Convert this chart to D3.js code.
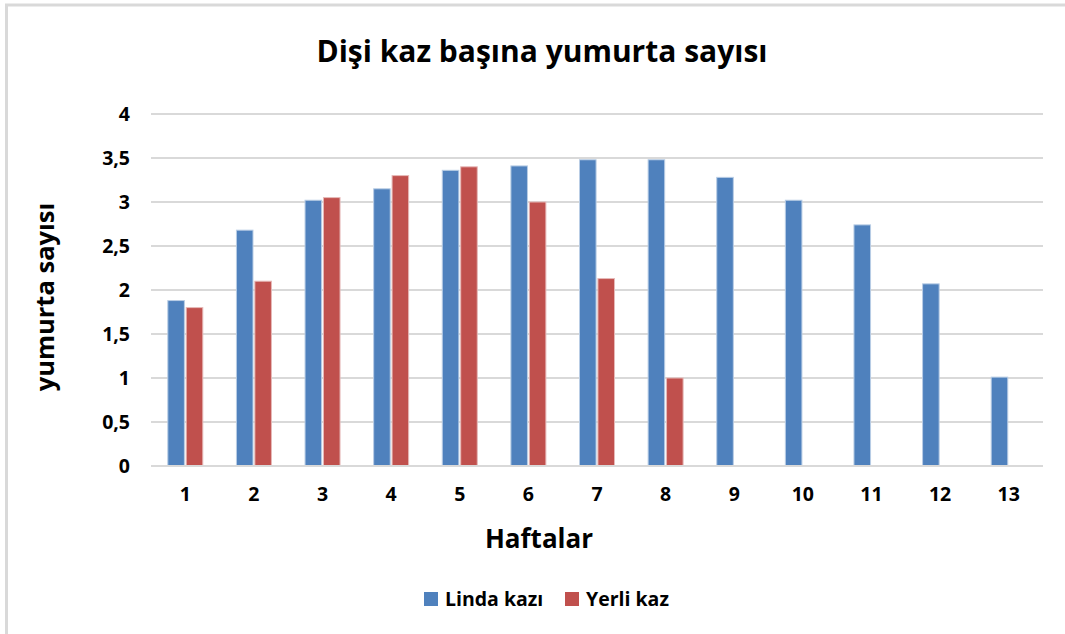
<!DOCTYPE html>
<html><head><meta charset="utf-8">
<script src="https://cdn.jsdelivr.net/npm/d3@7"></script>
<style>body{margin:0;background:#fff}svg{display:block}text{font-family:"Open Sans","Noto Sans",sans-serif;font-weight:bold;fill:#000}</style>
</head><body><svg id="c" width="1065" height="634"></svg>
<script>
const weeks = ["1","2","3","4","5","6","7","8","9","10","11","12","13"];
const seriesNames = ["Linda kazı","Yerli kaz"];
const lindaValues = [1.88,2.68,3.02,3.15,3.36,3.41,3.48,3.48,3.28,3.02,2.74,2.07,1.01];
const yerliValues = [1.80,2.10,3.05,3.30,3.40,3.00,2.13,1.00,null,null,null,null,null];
const yTicks = [0,0.5,1,1.5,2,2.5,3,3.5,4];
const colors = ["#4f81bd","#c0504d"];

const svg = d3.select("#c");
// frame
svg.append("line").attr("x1",5).attr("x2",1065).attr("y1",5).attr("y2",5).attr("stroke","#d9d9d9").attr("stroke-width",3);
svg.append("line").attr("x1",6.5).attr("x2",6.5).attr("y1",4).attr("y2",634).attr("stroke","#d9d9d9").attr("stroke-width",3);

const m = {left:151,right:1043,top:114,bottom:466};
const x = d3.scaleBand().domain(weeks).range([m.left,m.right]).paddingInner(0.49).paddingOuter(0.245);
const x1 = d3.scaleBand().domain(seriesNames).range([0,x.bandwidth()]).paddingInner(0.1);
const y = d3.scaleLinear().domain([0,4]).range([m.bottom,m.top]);

// gridlines
svg.append("g").selectAll("line").data(yTicks).join("line")
  .attr("x1",m.left).attr("x2",m.right)
  .attr("y1",d=>y(d)).attr("y2",d=>y(d))
  .attr("stroke","#d9d9d9").attr("stroke-width",2);

// y axis labels
const yAxis = d3.axisLeft(y).tickValues(yTicks).tickSize(0).tickPadding(0)
  .tickFormat(d=>String(d).replace(".",","));
const gy = svg.append("g").attr("transform",`translate(${m.left-21},0)`).call(yAxis);
gy.select(".domain").remove();
gy.selectAll("text").attr("font-size",19.5).attr("font-family","Open Sans").attr("font-weight","bold").attr("fill","#000");

// x axis labels
const xAxis = d3.axisBottom(x).tickSize(0).tickPadding(0);
const gx = svg.append("g").attr("transform",`translate(0,${m.bottom+21})`).call(xAxis);
gx.select(".domain").remove();
gx.selectAll("text").attr("font-size",19.5).attr("font-family","Open Sans").attr("font-weight","bold").attr("fill","#000");

// bars
const data = weeks.map((w,i)=>({w, vals:[lindaValues[i],yerliValues[i]]}));
const groups = svg.append("g").selectAll("g").data(data).join("g")
  .attr("transform",d=>`translate(${x(d.w)},0)`);
groups.selectAll("rect").data(d=>d.vals.map((v,j)=>({v,s:seriesNames[j],j})).filter(e=>e.v!=null)).join("rect")
  .attr("x",e=>x1(e.s)).attr("width",x1.bandwidth())
  .attr("y",e=>y(e.v)).attr("height",e=>y(0)-y(e.v))
  .attr("fill",e=>colors[e.j])
  .attr("stroke",e=>e.j===0?"#b9cde5":"#e6b9b8").attr("stroke-width",1);

// bottom axis line over bars
svg.append("line").attr("x1",m.left).attr("x2",m.right).attr("y1",y(0)).attr("y2",y(0)).attr("stroke","#d9d9d9").attr("stroke-width",2);

// title
svg.append("text").attr("x",542).attr("y",62).attr("text-anchor","middle").attr("font-size",30).text("Dişi kaz başına yumurta sayısı");
// x title
svg.append("text").attr("x",539).attr("y",548).attr("text-anchor","middle").attr("font-size",26).text("Haftalar");
// y title
svg.append("text").attr("transform","translate(54,297) rotate(-90)").attr("text-anchor","middle").attr("font-size",25.5).text("yumurta sayısı");

// legend
const leg = svg.append("g");
const legX = [424,565];
seriesNames.forEach((n,i)=>{
  leg.append("rect").attr("x",legX[i]).attr("y",592).attr("width",14).attr("height",14).attr("fill",colors[i]);
  leg.append("text").attr("x",legX[i]+21).attr("y",606).attr("font-size",19.5).text(n);
});
</script></body></html>
